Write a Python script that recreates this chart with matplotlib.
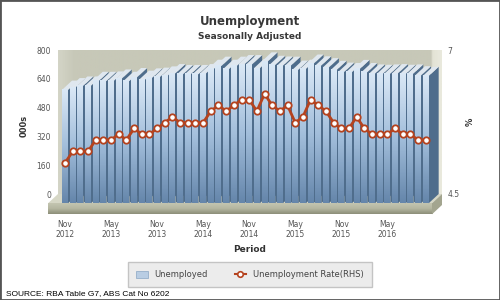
import numpy as np
import pandas as pd
import matplotlib
matplotlib.use('Agg')
import matplotlib.pyplot as plt
from matplotlib.colors import LinearSegmentedColormap
from matplotlib.patches import Polygon, Rectangle, Patch
from matplotlib.lines import Line2D
from matplotlib.transforms import ScaledTranslation

# monthly data, Nov 2012 - Oct 2016
periods = pd.date_range('2012-11-01', periods=48, freq='MS')
unemployed = [630, 644, 653, 653, 679, 679, 681, 692, 679, 700,
              685, 698, 702, 709, 722, 717, 717, 717, 722, 746,
              763, 746, 763, 772, 772, 750, 787, 768, 764, 763,
              741, 746, 775, 765, 755, 740, 730, 728, 745, 728,
              720, 718, 720, 722, 718, 720, 710, 707]
rate = [5.2, 5.4, 5.4, 5.4, 5.6, 5.6, 5.6, 5.7, 5.6, 5.8,
        5.7, 5.7, 5.8, 5.9, 6.0, 5.9, 5.9, 5.9, 5.9, 6.1,
        6.2, 6.1, 6.2, 6.3, 6.3, 6.1, 6.4, 6.2, 6.1, 6.2,
        5.9, 6.0, 6.3, 6.2, 6.1, 5.9, 5.8, 5.8, 6.0, 5.8,
        5.7, 5.7, 5.7, 5.8, 5.7, 5.7, 5.6, 5.6]
left_ticks = [0, 160, 320, 480, 640, 800]
right_ticks = [4.5, 7]
tick_every = 6

DPI = 100
fig = plt.figure(figsize=(5, 3), dpi=DPI)
ax = fig.add_axes([58 / 500, 106 / 300, 384 / 500, 144 / 300])
ax2 = ax.twinx()

n = len(unemployed)
x = np.arange(n)
step = 7.674                       # px per month
x0 = -(65 - 58) / step
x1 = x0 + 384 / step
ymax = 800
ax.set_xlim(x0, x1)
ax.set_ylim(0, ymax)
ax2.set_ylim(4.5, 7)

# fake 3d depth (px -> data units)
dpx, dpy = 10, 9.3
ddx = dpx / step
ddy = dpy / 144 * ymax
thick = 11 / 144 * ymax

# back wall
wall_cmap = LinearSegmentedColormap.from_list('wall', [
    (0, '#d3d4c6'), (0.04, '#c7c8b8'), (0.975, '#c7c8b8'),
    (0.978, '#e3e3d5'), (1, '#e9e9dd')])
ax.imshow(np.linspace(0, 1, 400).reshape(1, -1), cmap=wall_cmap,
          extent=[x0, x1, 0, ymax], aspect='auto', zorder=0)

# floor
ax.add_patch(Polygon([(x0, 0), (x1, 0), (x1 - ddx, -ddy), (x0 - ddx, -ddy)],
                     closed=True, facecolor='#d6d7c6', edgecolor='none',
                     zorder=1, clip_on=False))
floor_cmap = LinearSegmentedColormap.from_list('floor', ['#8c8e78', '#b4b6a0', '#c4c5b1'])
ax.imshow(np.linspace(0, 1, 50).reshape(-1, 1), cmap=floor_cmap, origin='lower',
          extent=[x0 - ddx, x1 - ddx, -ddy - thick, -ddy], aspect='auto',
          zorder=1, clip_on=False)
ax.add_patch(Polygon([(x1 - ddx, -ddy), (x1, 0), (x1, -thick), (x1 - ddx, -ddy - thick)],
                     closed=True, facecolor='#a3a58f', edgecolor='none',
                     zorder=1, clip_on=False))

# bars
w = 0.78
bar_cmap = LinearSegmentedColormap.from_list('bar', ['#6586ab', '#a2bedb', '#dae8f6'])
grad = np.linspace(0, 1, 100).reshape(-1, 1)
for i, v in enumerate(unemployed):
    l, r = i - w / 2, i + w / 2
    z = 2 + 3 * i * 0.01
    ax.add_patch(Polygon([(r, -ddy), (r + ddx, 0), (r + ddx, v), (r, v - ddy)],
                         closed=True, facecolor='#4f6d8c', edgecolor='none',
                         zorder=z, clip_on=False))
    ax.add_patch(Polygon([(l, v - ddy), (r, v - ddy), (r + ddx, v), (l + ddx, v)],
                         closed=True, facecolor='#dfe7ef', edgecolor='none',
                         zorder=z + 0.001, clip_on=False))
    ax.imshow(grad, cmap=bar_cmap, origin='lower', extent=[l, r, -ddy, v - ddy],
              aspect='auto', zorder=z + 0.002, clip_on=False)
ax.set_xlim(x0, x1)
ax.set_ylim(0, ymax)

# rate line on front plane
front = ax2.transData + ScaledTranslation(0, -dpy / DPI, fig.dpi_scale_trans)
ax2.plot(x, rate, color='#b5431f', lw=2, marker='o', ms=4.6, mfc='white',
         mec='#b5431f', mew=1.3, transform=front, clip_on=False, zorder=5)

# ticks
tick_pos = x[::tick_every]
ax.set_xticks(tick_pos)
ax.set_xticklabels([f"{p:%b}\n{p:%Y}" for p in periods[::tick_every]],
                   fontsize=5.5, color='#555555', linespacing=1.1)
ax.tick_params(axis='x', length=0, pad=19)
ax.set_yticks(left_ticks)
ax.set_yticklabels([str(t) for t in left_ticks], fontsize=5.5, color='#555555')
ax.tick_params(axis='y', length=0, pad=5)
ax2.set_yticks(right_ticks)
ax2.set_yticklabels(['4.5', '7'], fontsize=5.5, color='#555555')
ax2.tick_params(axis='y', length=0, pad=4)
for a in (ax, ax2):
    for s in a.spines.values():
        s.set_visible(False)
ax2.patch.set_visible(False)

# texts
fig.text(0.5, 1 - 22 / 300, 'Unemployment', ha='center', va='center',
         fontsize=8.5, fontweight='bold', color='#383838')
fig.text(0.5, 1 - 36.5 / 300, 'Seasonally Adjusted', ha='center', va='center',
         fontsize=6.5, fontweight='bold', color='#383838')
fig.text(24.5 / 500, 1 - 126 / 300, '000s', rotation=90, ha='center', va='center',
         fontsize=6, fontweight='bold', color='#333333')
fig.text(470 / 500, 1 - 122 / 300, '%', rotation=90, ha='center', va='center',
         fontsize=6, fontweight='bold', color='#333333')
fig.text(0.5, 1 - 250 / 300, 'Period', ha='center', va='center',
         fontsize=6.5, fontweight='bold', color='#333333')
fig.text(6 / 500, 1 - 294 / 300, 'SOURCE: RBA Table G7, ABS Cat No 6202',
         ha='left', va='center', fontsize=6, family='Liberation Sans', color='black')

# legend
handles = [Patch(facecolor='#b9cde3', edgecolor='#8aa6c4', lw=0.5),
           Line2D([], [], color='#b5431f', lw=1.5, marker='o', ms=4,
                  mfc='white', mec='#b5431f', mew=1.2)]
leg = fig.legend(handles, ['Unemployed', 'Unemployment Rate(RHS)'], loc='center',
                 bbox_to_anchor=(250 / 500, 1 - 274.5 / 300), ncol=2, fontsize=6,
                 frameon=True, fancybox=False, edgecolor='#c4c4c4', facecolor='#ececec',
                 framealpha=1, handlelength=1.4, handleheight=0.9, columnspacing=3.2,
                 borderpad=1.0, handletextpad=0.8)
for t in leg.get_texts():
    t.set_color('#444444')

fig.patches.append(Rectangle((0, 0), 1, 1, transform=fig.transFigure, fill=False,
                             edgecolor='#555555', lw=2))

fig.savefig('out.png', dpi=DPI)
